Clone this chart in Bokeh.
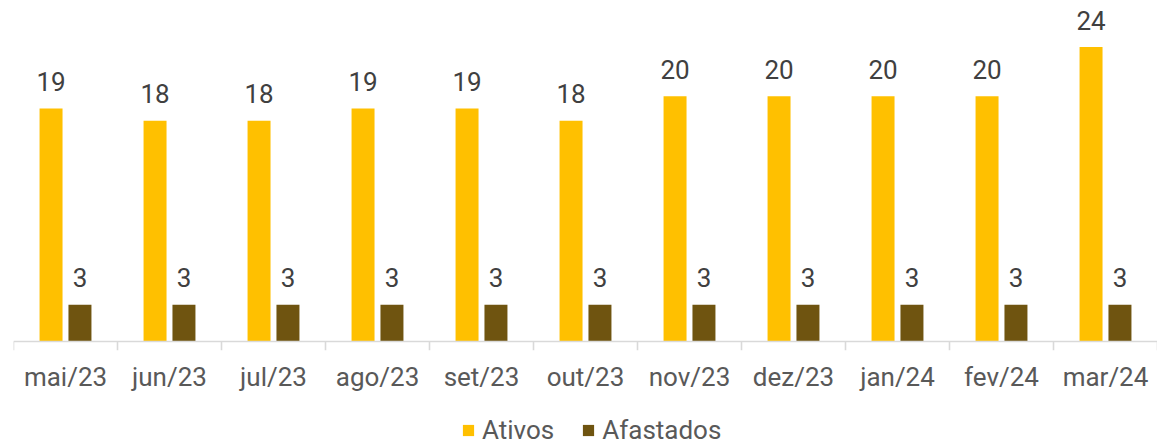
from bokeh.plotting import figure
from bokeh.layouts import column
from bokeh.models import FactorRange, Range1d, ColumnDataSource, Legend, LegendItem, Span
from bokeh.transform import dodge
from bokeh.core.properties import value
from bokeh.embed import file_html
from bokeh.resources import INLINE

categories = ["mai/23", "jun/23", "jul/23", "ago/23", "set/23", "out/23",
              "nov/23", "dez/23", "jan/24", "fev/24", "mar/24"]
ativos = [19, 18, 18, 19, 19, 18, 20, 20, 20, 20, 24]
afastados = [3, 3, 3, 3, 3, 3, 3, 3, 3, 3, 3]
series_names = ["Ativos", "Afastados"]

GOLD = "#FFC000"
BROWN = "#6F5410"
FONT = "Roboto"

src = ColumnDataSource(dict(cat=categories, ativos=ativos, afastados=afastados,
                            lab_a=[str(v) for v in ativos],
                            lab_b=[str(v) for v in afastados]))

p = figure(x_range=FactorRange(*categories), y_range=Range1d(-0.81, 27.8),
           width=1157, height=394, output_backend="svg", toolbar_location=None,
           min_border_left=13, min_border_right=0, min_border_top=0, min_border_bottom=42)

r1 = p.vbar(x=dodge("cat", -0.139, range=p.x_range), top="ativos", bottom=0, width=0.221,
            source=src, fill_color=GOLD, line_color=None)
r2 = p.vbar(x=dodge("cat", 0.139, range=p.x_range), top="afastados", bottom=0, width=0.221,
            source=src, fill_color=BROWN, line_color=None)

for col, lab, off in (("ativos", "lab_a", -0.139), ("afastados", "lab_b", 0.139)):
    p.text(x=dodge("cat", off, range=p.x_range), y=col, text=lab, source=src,
           text_align="center", text_baseline="alphabetic", y_offset=-27,
           text_font=value(FONT), text_font_size="26px", text_color="#404040")

# baseline and category boundary ticks
p.add_layout(Span(location=0, dimension="width", line_color="#D9D9D9", line_width=1.6))
p.segment(x0=dodge("cat", -0.5, range=p.x_range), x1=dodge("cat", -0.5, range=p.x_range),
          y0=0, y1=-0.7, source=src, line_color="#D9D9D9", line_width=1.6)
last = ColumnDataSource(dict(cat=[categories[-1]]))
p.segment(x0=dodge("cat", 0.5, range=p.x_range), x1=dodge("cat", 0.5, range=p.x_range),
          y0=0, y1=-0.7, source=last, line_color="#D9D9D9", line_width=1.6)

p.yaxis.visible = False
p.xgrid.visible = False
p.ygrid.visible = False
p.outline_line_color = None
p.xaxis.axis_line_color = None
p.xaxis.major_tick_line_color = None
p.xaxis.minor_tick_line_color = None
p.xaxis.major_tick_out = 0
p.xaxis.major_label_standoff = 10
p.xaxis.major_label_text_font = FONT
p.xaxis.major_label_text_font_size = "26px"
p.xaxis.major_label_text_color = "#595959"

# legend strip below the chart (its bars lie outside its visible y range)
lf = figure(x_range=FactorRange(*categories), y_range=Range1d(1000, 1001),
            width=1157, height=51, output_backend="svg", toolbar_location=None,
            min_border_left=13, min_border_right=0, min_border_top=0, min_border_bottom=0,
            x_axis_location=None, y_axis_location=None)
lf.xgrid.visible = False
lf.ygrid.visible = False
lf.outline_line_color = None
l1 = lf.vbar(x="cat", top="ativos", width=0.2, source=src, fill_color=GOLD, line_color=None)
l2 = lf.vbar(x="cat", top="afastados", width=0.2, source=src, fill_color=BROWN, line_color=None)

legend = Legend(items=[LegendItem(label=series_names[0], renderers=[l1]),
                       LegendItem(label=series_names[1], renderers=[l2])],
                orientation="horizontal", location=(448, 0),
                glyph_width=14, glyph_height=14, label_standoff=7, spacing=27,
                padding=0, margin=0, border_line_color=None, background_fill_alpha=0,
                label_text_font=FONT, label_text_font_size="26px", label_text_color="#595959")
lf.add_layout(legend, "center")

layout = column(p, lf, spacing=0)
open("out.html", "w").write(file_html(layout, INLINE))
